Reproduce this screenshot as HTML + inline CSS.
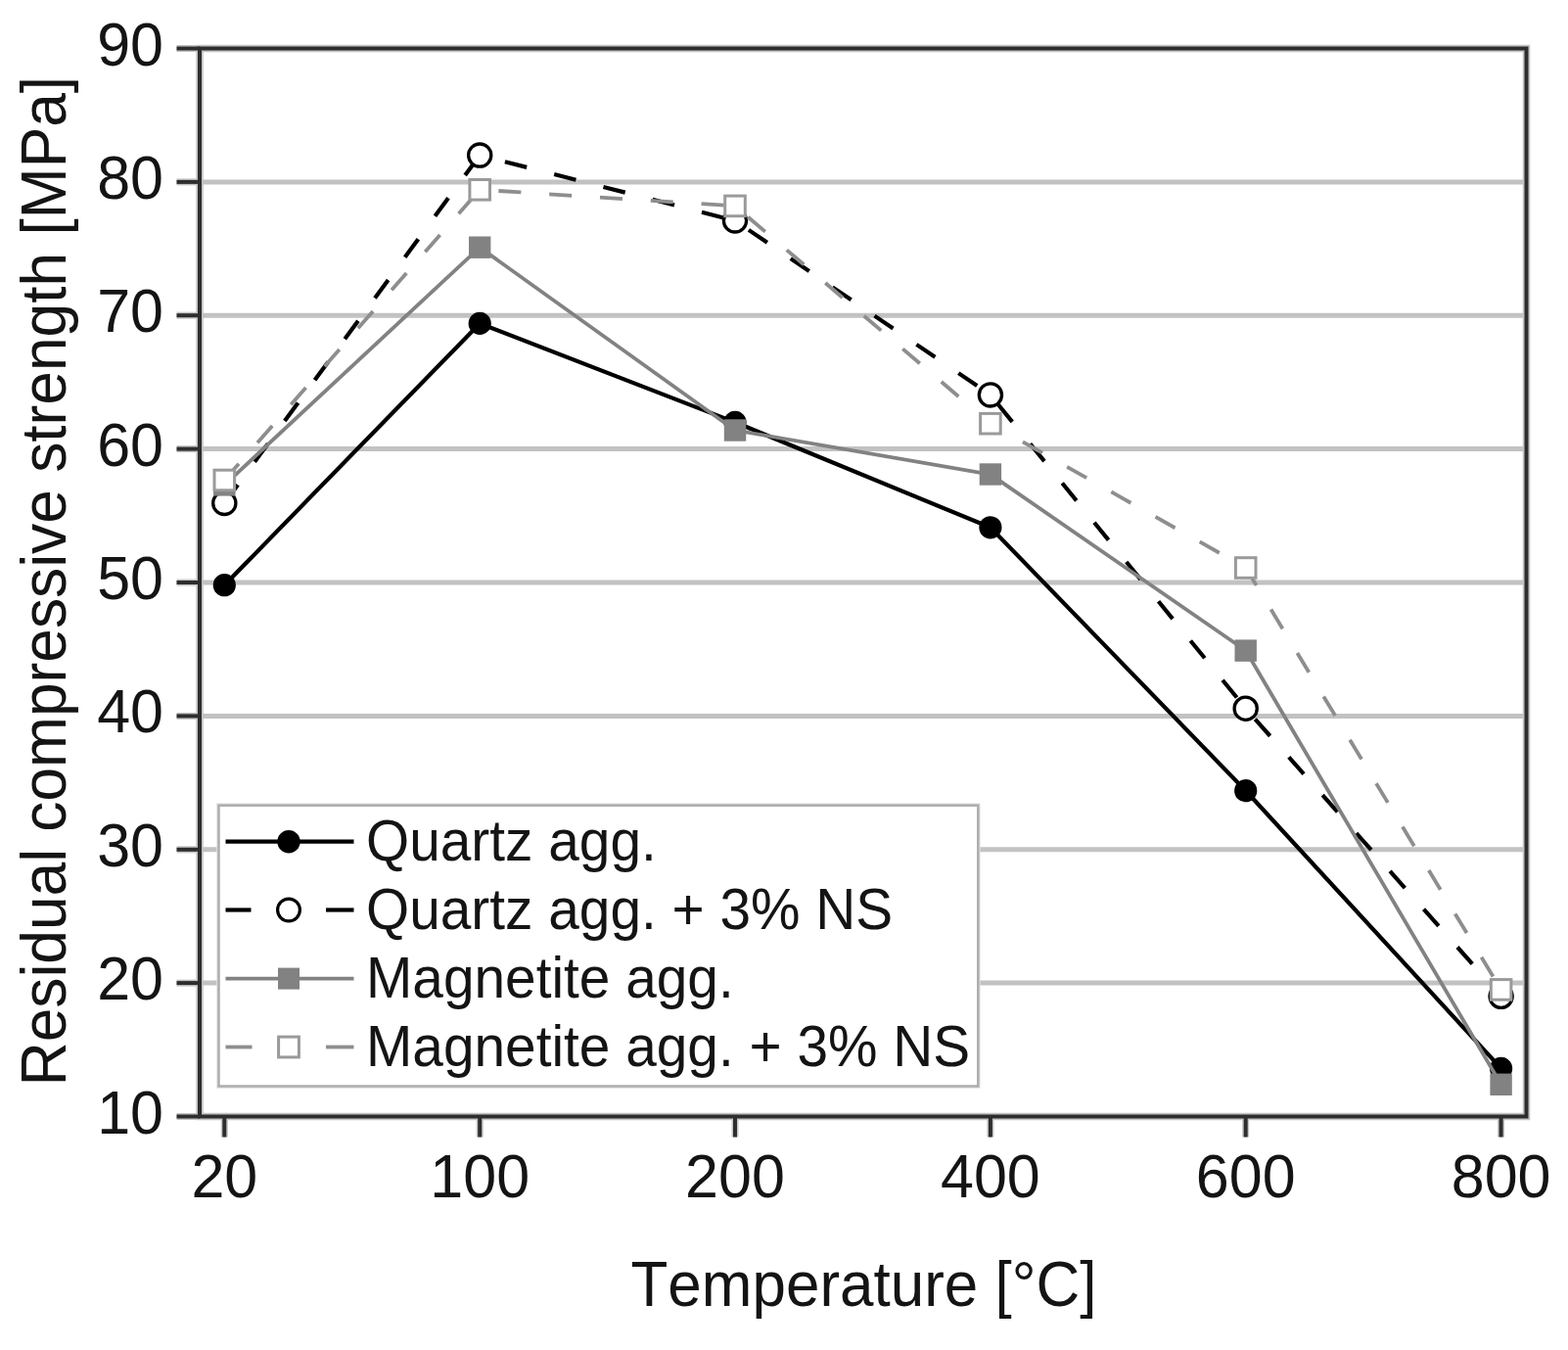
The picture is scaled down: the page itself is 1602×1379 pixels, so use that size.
<!DOCTYPE html>
<html><head><meta charset="utf-8"><title>Residual compressive strength vs temperature</title><style>html,body{margin:0;padding:0;background:#fff;overflow:hidden;}svg{display:block;}</style></head><body>
<svg width="1602" height="1379" viewBox="0 0 1602 1379" font-family="'Liberation Sans', Arial, Helvetica, sans-serif" style="font-kerning:none">
<rect width="1602" height="1379" fill="#fff"/>
<line x1="204.0" y1="1004.1" x2="1559.5" y2="1004.1" stroke="#c2c2c2" stroke-width="5"/>
<line x1="204.0" y1="867.8" x2="1559.5" y2="867.8" stroke="#c2c2c2" stroke-width="5"/>
<line x1="204.0" y1="731.4" x2="1559.5" y2="731.4" stroke="#c2c2c2" stroke-width="5"/>
<line x1="204.0" y1="595.0" x2="1559.5" y2="595.0" stroke="#c2c2c2" stroke-width="5"/>
<line x1="204.0" y1="458.6" x2="1559.5" y2="458.6" stroke="#c2c2c2" stroke-width="5"/>
<line x1="204.0" y1="322.2" x2="1559.5" y2="322.2" stroke="#c2c2c2" stroke-width="5"/>
<line x1="204.0" y1="185.9" x2="1559.5" y2="185.9" stroke="#c2c2c2" stroke-width="5"/>
<polyline points="229.30,597.73 490.16,330.43 751.02,431.35 1011.88,538.81 1272.74,807.75 1533.60,1091.40" fill="none" stroke="#000" stroke-width="4.2" stroke-linejoin="round"/>
<circle cx="229.3" cy="597.7" r="11.6" fill="#000"/>
<circle cx="490.2" cy="330.4" r="11.6" fill="#000"/>
<circle cx="751.0" cy="431.4" r="11.6" fill="#000"/>
<circle cx="1011.9" cy="538.8" r="11.6" fill="#000"/>
<circle cx="1272.7" cy="807.7" r="11.6" fill="#000"/>
<circle cx="1533.6" cy="1091.4" r="11.6" fill="#000"/>
<polyline points="229.30,513.86 490.16,158.60 751.02,225.42 1011.88,403.39 1272.74,723.74 1533.60,1017.76" fill="none" stroke="#000" stroke-width="4.2" stroke-dasharray="23.0 28.90" stroke-dashoffset="-0.20"/>
<circle cx="229.3" cy="513.9" r="11.6" fill="#fff" stroke="#000" stroke-width="3.3"/>
<circle cx="490.2" cy="158.6" r="11.6" fill="#fff" stroke="#000" stroke-width="3.3"/>
<circle cx="751.0" cy="225.4" r="11.6" fill="#fff" stroke="#000" stroke-width="3.3"/>
<circle cx="1011.9" cy="403.4" r="11.6" fill="#fff" stroke="#000" stroke-width="3.3"/>
<circle cx="1272.7" cy="723.7" r="11.6" fill="#fff" stroke="#000" stroke-width="3.3"/>
<circle cx="1533.6" cy="1017.8" r="11.6" fill="#fff" stroke="#000" stroke-width="3.3"/>
<polyline points="229.30,495.45 490.16,252.70 751.02,439.53 1011.88,484.54 1272.74,664.55 1533.60,1107.77" fill="none" stroke="#828282" stroke-width="3.8" stroke-linejoin="round"/>
<rect x="218.1" y="484.2" width="22.4" height="22.4" fill="#828282"/>
<rect x="479.0" y="241.5" width="22.4" height="22.4" fill="#828282"/>
<rect x="739.8" y="428.3" width="22.4" height="22.4" fill="#828282"/>
<rect x="1000.7" y="473.3" width="22.4" height="22.4" fill="#828282"/>
<rect x="1261.5" y="653.4" width="22.4" height="22.4" fill="#828282"/>
<rect x="1522.4" y="1096.6" width="22.4" height="22.4" fill="#828282"/>
<polyline points="229.30,490.54 490.16,193.78 751.02,210.42 1011.88,432.71 1272.74,580.00 1533.60,1010.94" fill="none" stroke="#8e8e8e" stroke-width="3.8" stroke-dasharray="23.0 28.90" stroke-dashoffset="0.80"/>
<rect x="219.0" y="480.2" width="20.6" height="20.6" fill="#fff" stroke="#9a9a9a" stroke-width="3.0"/>
<rect x="479.9" y="183.5" width="20.6" height="20.6" fill="#fff" stroke="#9a9a9a" stroke-width="3.0"/>
<rect x="740.7" y="200.1" width="20.6" height="20.6" fill="#fff" stroke="#9a9a9a" stroke-width="3.0"/>
<rect x="1001.6" y="422.4" width="20.6" height="20.6" fill="#fff" stroke="#9a9a9a" stroke-width="3.0"/>
<rect x="1262.4" y="569.7" width="20.6" height="20.6" fill="#fff" stroke="#9a9a9a" stroke-width="3.0"/>
<rect x="1523.3" y="1000.6" width="20.6" height="20.6" fill="#fff" stroke="#9a9a9a" stroke-width="3.0"/>
<rect x="223.5" y="822.7" width="775.8" height="286.8" fill="#fff" stroke="#e2e2e2" stroke-width="4.6"/>
<rect x="223.5" y="822.7" width="775.8" height="286.8" fill="#fff" stroke="#adadad" stroke-width="2.5"/>
<line x1="230.5" y1="859.7" x2="361.5" y2="859.7" stroke="#000" stroke-width="4.2"/>
<circle cx="295.0" cy="859.7" r="11.7" fill="#000"/>
<text transform="translate(374.0,878.7) scale(1,1.035)" font-size="56.8" fill="#141414">Quartz agg.</text>
<line x1="230.5" y1="929.5" x2="256.5" y2="929.5" stroke="#000" stroke-width="4.2"/>
<line x1="333" y1="929.5" x2="361.5" y2="929.5" stroke="#000" stroke-width="4.2"/>
<circle cx="295.0" cy="929.5" r="11.4" fill="#fff" stroke="#000" stroke-width="3.2"/>
<text transform="translate(374.0,948.5) scale(1,1.035)" font-size="56.8" fill="#141414">Quartz agg. + 3% NS</text>
<line x1="230.5" y1="999.6" x2="361.5" y2="999.6" stroke="#828282" stroke-width="3.8"/>
<rect x="284.0" y="988.6" width="22.0" height="22.0" fill="#828282"/>
<text transform="translate(374.0,1018.6) scale(1,1.035)" font-size="56.8" fill="#141414">Magnetite agg.</text>
<line x1="230.5" y1="1069.5" x2="257.5" y2="1069.5" stroke="#8e8e8e" stroke-width="3.8"/>
<line x1="333" y1="1069.5" x2="361.5" y2="1069.5" stroke="#8e8e8e" stroke-width="3.8"/>
<rect x="284.6" y="1059.1" width="20.8" height="20.8" fill="#fff" stroke="#9a9a9a" stroke-width="3.0"/>
<text transform="translate(374.0,1088.5) scale(1,1.035)" font-size="56.8" fill="#141414">Magnetite agg. + 3% NS</text>
<rect x="204.0" y="49.5" width="1355.5" height="1091.0" fill="none" stroke="#c4c4c4" stroke-width="7.5"/>
<line x1="180.5" y1="1140.5" x2="204.0" y2="1140.5" stroke="#c4c4c4" stroke-width="7"/>
<line x1="180.5" y1="1004.1" x2="204.0" y2="1004.1" stroke="#c4c4c4" stroke-width="7"/>
<line x1="180.5" y1="867.8" x2="204.0" y2="867.8" stroke="#c4c4c4" stroke-width="7"/>
<line x1="180.5" y1="731.4" x2="204.0" y2="731.4" stroke="#c4c4c4" stroke-width="7"/>
<line x1="180.5" y1="595.0" x2="204.0" y2="595.0" stroke="#c4c4c4" stroke-width="7"/>
<line x1="180.5" y1="458.6" x2="204.0" y2="458.6" stroke="#c4c4c4" stroke-width="7"/>
<line x1="180.5" y1="322.2" x2="204.0" y2="322.2" stroke="#c4c4c4" stroke-width="7"/>
<line x1="180.5" y1="185.9" x2="204.0" y2="185.9" stroke="#c4c4c4" stroke-width="7"/>
<line x1="180.5" y1="49.5" x2="204.0" y2="49.5" stroke="#c4c4c4" stroke-width="7"/>
<line x1="229.3" y1="1140.5" x2="229.3" y2="1161.5" stroke="#c4c4c4" stroke-width="7"/>
<line x1="490.2" y1="1140.5" x2="490.2" y2="1161.5" stroke="#c4c4c4" stroke-width="7"/>
<line x1="751.0" y1="1140.5" x2="751.0" y2="1161.5" stroke="#c4c4c4" stroke-width="7"/>
<line x1="1011.9" y1="1140.5" x2="1011.9" y2="1161.5" stroke="#c4c4c4" stroke-width="7"/>
<line x1="1272.7" y1="1140.5" x2="1272.7" y2="1161.5" stroke="#c4c4c4" stroke-width="7"/>
<line x1="1533.6" y1="1140.5" x2="1533.6" y2="1161.5" stroke="#c4c4c4" stroke-width="7"/>
<rect x="204.0" y="49.5" width="1355.5" height="1091.0" fill="none" stroke="#2e2e2e" stroke-width="4"/>
<line x1="180.5" y1="1140.5" x2="204.0" y2="1140.5" stroke="#2e2e2e" stroke-width="4"/>
<text transform="translate(167.0,1157.5) scale(1,1.035)" font-size="61" text-anchor="end" fill="#141414">10</text>
<line x1="180.5" y1="1004.1" x2="204.0" y2="1004.1" stroke="#2e2e2e" stroke-width="4"/>
<text transform="translate(167.0,1021.1) scale(1,1.035)" font-size="61" text-anchor="end" fill="#141414">20</text>
<line x1="180.5" y1="867.8" x2="204.0" y2="867.8" stroke="#2e2e2e" stroke-width="4"/>
<text transform="translate(167.0,884.8) scale(1,1.035)" font-size="61" text-anchor="end" fill="#141414">30</text>
<line x1="180.5" y1="731.4" x2="204.0" y2="731.4" stroke="#2e2e2e" stroke-width="4"/>
<text transform="translate(167.0,748.4) scale(1,1.035)" font-size="61" text-anchor="end" fill="#141414">40</text>
<line x1="180.5" y1="595.0" x2="204.0" y2="595.0" stroke="#2e2e2e" stroke-width="4"/>
<text transform="translate(167.0,612.0) scale(1,1.035)" font-size="61" text-anchor="end" fill="#141414">50</text>
<line x1="180.5" y1="458.6" x2="204.0" y2="458.6" stroke="#2e2e2e" stroke-width="4"/>
<text transform="translate(167.0,475.6) scale(1,1.035)" font-size="61" text-anchor="end" fill="#141414">60</text>
<line x1="180.5" y1="322.2" x2="204.0" y2="322.2" stroke="#2e2e2e" stroke-width="4"/>
<text transform="translate(167.0,339.2) scale(1,1.035)" font-size="61" text-anchor="end" fill="#141414">70</text>
<line x1="180.5" y1="185.9" x2="204.0" y2="185.9" stroke="#2e2e2e" stroke-width="4"/>
<text transform="translate(167.0,202.9) scale(1,1.035)" font-size="61" text-anchor="end" fill="#141414">80</text>
<line x1="180.5" y1="49.5" x2="204.0" y2="49.5" stroke="#2e2e2e" stroke-width="4"/>
<text transform="translate(167.0,66.5) scale(1,1.035)" font-size="61" text-anchor="end" fill="#141414">90</text>
<line x1="229.3" y1="1140.5" x2="229.3" y2="1161.5" stroke="#2e2e2e" stroke-width="4"/>
<text transform="translate(229.3,1222.5) scale(1,1.035)" font-size="61" text-anchor="middle" fill="#141414">20</text>
<line x1="490.2" y1="1140.5" x2="490.2" y2="1161.5" stroke="#2e2e2e" stroke-width="4"/>
<text transform="translate(490.2,1222.5) scale(1,1.035)" font-size="61" text-anchor="middle" fill="#141414">100</text>
<line x1="751.0" y1="1140.5" x2="751.0" y2="1161.5" stroke="#2e2e2e" stroke-width="4"/>
<text transform="translate(751.0,1222.5) scale(1,1.035)" font-size="61" text-anchor="middle" fill="#141414">200</text>
<line x1="1011.9" y1="1140.5" x2="1011.9" y2="1161.5" stroke="#2e2e2e" stroke-width="4"/>
<text transform="translate(1011.9,1222.5) scale(1,1.035)" font-size="61" text-anchor="middle" fill="#141414">400</text>
<line x1="1272.7" y1="1140.5" x2="1272.7" y2="1161.5" stroke="#2e2e2e" stroke-width="4"/>
<text transform="translate(1272.7,1222.5) scale(1,1.035)" font-size="61" text-anchor="middle" fill="#141414">600</text>
<line x1="1533.6" y1="1140.5" x2="1533.6" y2="1161.5" stroke="#2e2e2e" stroke-width="4"/>
<text transform="translate(1533.6,1222.5) scale(1,1.035)" font-size="61" text-anchor="middle" fill="#141414">800</text>
<text transform="translate(644.5,1333.5) scale(1,1.035)" font-size="62.0" fill="#141414">Temperature [°C]</text>
<text transform="translate(67,1109.3) rotate(-90) scale(1,1.035)" font-size="62.3" fill="#141414">Residual compressive strength [MPa]</text>
</svg>
</body></html>
